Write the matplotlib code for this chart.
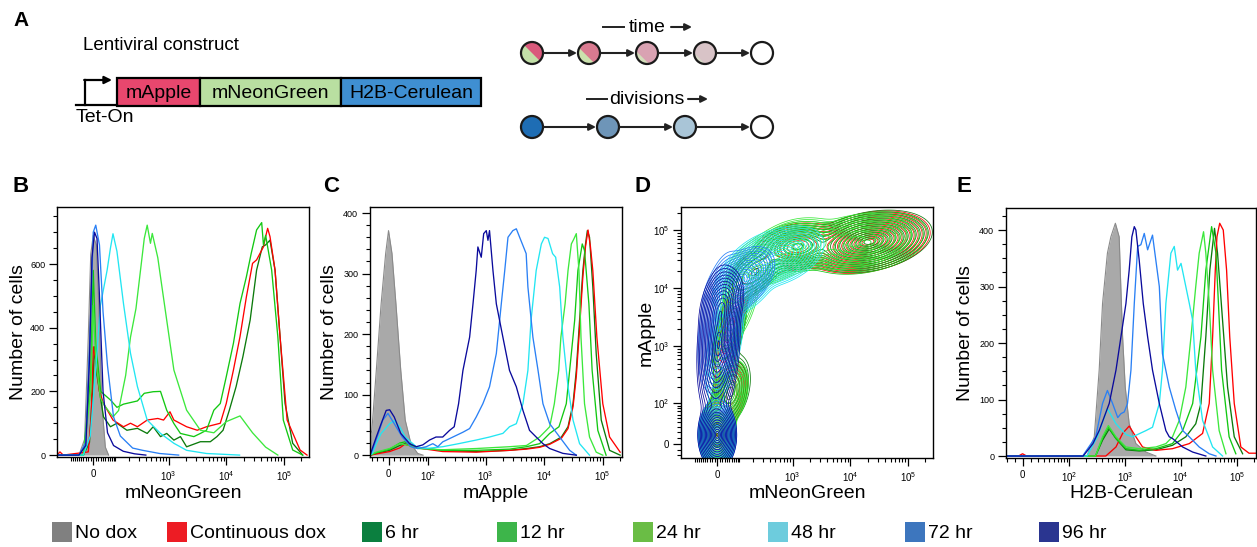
import numpy as np
import matplotlib
matplotlib.use("Agg")
import matplotlib.pyplot as plt
from matplotlib.patches import Rectangle, Circle, Polygon
from matplotlib.ticker import MultipleLocator, FixedLocator, FixedFormatter

plt.rcParams['font.family'] = ['Liberation Sans', 'DejaVu Sans']
plt.rcParams['mathtext.fontset'] = 'custom'
plt.rcParams['mathtext.rm'] = 'Liberation Sans'
plt.rcParams['mathtext.it'] = 'Liberation Sans:italic'

W, H = 1257, 547

# ---- conditions -------------------------------------------------------------
conditions = ["No dox", "Continuous dox", "6 hr", "12 hr", "24 hr", "48 hr", "72 hr", "96 hr"]
legend_colors = ['#808080', '#ED1C24', '#0B7F3F', '#3DB54A', '#6ABD45', '#6DCCDD', '#3D76BE', '#2A3590']
line_colors = {"Continuous dox": '#ff0000', "6 hr": '#0b7a0b', "12 hr": '#12c812',
               "24 hr": '#3ce83c', "48 hr": '#22e6f2', "72 hr": '#2a80f5', "96 hr": '#0a0a9c'}
draw_order = ["6 hr", "Continuous dox", "12 hr", "24 hr", "48 hr", "72 hr", "96 hr"]

# ---- B: mNeonGreen histograms (fluorescence, cell count) --------------------
b_nodox_x = [-200, -60, -35, -20, -10, 0, 12, 22, 35, 50, 65]
b_nodox_y = [0, 0, 50, 370, 630, 690, 660, 470, 160, 25, 0]
b_red_x = [-200, -175, -150, -20, -8, 0, 10, 25, 42, 87, 152, 209, 282, 423, 650, 820, 1060, 1240, 2060, 3150,
           4550, 7880, 10000, 13300, 17300, 22300, 28500, 33500, 44000, 48000, 52000, 57100, 69800, 85200,
           113000, 189000, 250000]
b_red_y = [0, 10, 0, 10, 120, 340, 300, 200, 162, 110, 89, 100, 89, 110, 115, 110, 136, 110, 89, 78,
           89, 100, 162, 267, 372, 497, 602, 613, 654, 686, 712, 686, 581, 372, 110, 16, 0]
b_6_x = [-200, -40, -15, -3, 5, 15, 42, 74, 109, 178, 282, 423, 540, 725, 930, 1240, 1610, 2060, 3570, 5300,
         6900, 8800, 11300, 14800, 19400, 25900, 33500, 42000, 48000, 57100, 69800, 85200, 104000, 141000, 210000]
b_6_y = [0, 0, 40, 200, 340, 250, 120, 89, 100, 78, 84, 68, 89, 58, 68, 47, 58, 26, 42, 42,
         58, 78, 141, 215, 309, 424, 581, 654, 660, 675, 581, 372, 162, 37, 0]
b_12_x = [-200, -40, -10, 0, 10, 30, 74, 109, 152, 209, 282, 375, 540, 725, 930, 1240, 1610, 2750, 3570, 4550,
          6100, 7880, 10000, 13300, 17300, 22300, 27000, 33500, 41000, 44000, 48000, 61000, 78000, 97000,
          141000, 210000]
b_12_y = [0, 0, 250, 580, 350, 200, 173, 150, 160, 165, 170, 194, 199, 200, 141, 99, 68, 58, 68, 78,
          141, 162, 246, 351, 476, 560, 633, 707, 730, 660, 690, 581, 372, 110, 16, 0]
b_24_x = [-200, -40, -10, 0, 10, 29, 42, 87, 119, 168, 209, 265, 331, 375, 423, 483, 520, 650, 725, 930, 1240,
          2060, 3570, 6100, 10000, 17300, 28500, 48000, 78000]
b_24_y = [0, 0, 200, 470, 300, 180, 160, 120, 140, 250, 370, 460, 600, 680, 722, 665, 696, 620, 560, 424, 267,
          141, 78, 70, 105, 123, 70, 25, 0]
b_48_x = [-200, -40, -12, 8, 29, 58, 74, 87, 109, 152, 209, 282, 423, 725, 1240, 2060, 4550, 17000]
b_48_y = [0, 0, 60, 250, 470, 580, 650, 695, 640, 475, 320, 215, 110, 68, 37, 15, 5, 0]
b_72_x = [-200, -60, -30, -12, 0, 10, 25, 40, 60, 90, 130, 230, 350, 700, 1500]
b_72_y = [0, 0, 40, 400, 700, 722, 660, 450, 280, 120, 60, 22, 15, 5, 0]
b_96_x = [-200, -60, -30, -15, -5, 5, 15, 25, 40, 60, 90, 150, 250, 400]
b_96_y = [0, 0, 30, 300, 620, 700, 680, 500, 200, 70, 30, 12, 4, 0]

# ---- C: mApple histograms ---------------------------------------------------
c_nodox_x = [-35, -31, -22, -13, -5, 0, 6, 13, 22, 31, 44, 62, 80]
c_nodox_y = [30, 41, 140, 250, 333, 371, 333, 250, 140, 58, 19, 3, 0]
c_red_x = [-35, -22, 2, 20, 30, 62, 183, 692, 2570, 5000, 8400, 12500, 19800, 25700, 31300, 35600, 40500,
           46100, 51200, 56500, 62000, 68200, 80000, 101000, 132000, 200000]
c_red_y = [0, 2, 6, 12, 18, 12, 6, 5, 8, 10, 13, 18, 28, 44, 80, 130, 210, 295, 345, 372, 345, 305, 195, 85, 30, 5]
c_6_x = [-35, -22, 2, 20, 30, 62, 183, 692, 2570, 5000, 8400, 12500, 19800, 25700, 31300, 35600, 40500,
         46100, 51200, 55000, 59900, 68200, 77900, 95000, 132000, 200000]
c_6_y = [0, 3, 8, 16, 19, 12, 8, 6, 8, 11, 14, 19, 30, 47, 85, 140, 223, 305, 349, 371, 360, 278, 168, 58, 8, 0]
c_12_x = [-35, -22, 2, 20, 30, 62, 183, 692, 2570, 5000, 8400, 12500, 18000, 24000, 27400, 33400, 37900,
          45000, 49200, 58400, 66400, 83000, 115000]
c_12_y = [0, 4, 10, 20, 22, 13, 8, 8, 10, 14, 19, 36, 47, 85, 140, 223, 305, 349, 338, 250, 140, 41, 0]
c_24_x = [-35, -22, 2, 20, 41, 62, 183, 692, 2570, 5000, 8400, 10900, 12500, 15000, 17800, 19400, 22900,
          25700, 29300, 32300, 35600, 39500, 42800, 49200, 59900, 77900, 101000]
c_24_y = [0, 5, 11, 19, 16, 11, 9, 11, 14, 16, 30, 41, 47, 85, 140, 195, 250, 305, 349, 357, 366, 305, 195,
          85, 30, 5, 0]
c_48_x = [-35, -30, -22, -13, 2, 10, 20, 31, 58, 92, 183, 345, 692, 1170, 1980, 2570, 3360, 4360, 5300, 6000,
          7340, 9000, 10200, 11700, 14000, 15800, 18500, 21000, 25700, 31300, 40500, 59900]
c_48_y = [0, 3, 19, 36, 52, 57, 47, 30, 14, 11, 14, 19, 25, 30, 36, 47, 52, 85, 140, 223, 305, 349, 360, 358,
          333, 327, 278, 195, 113, 58, 19, 0]
c_72_x = [-35, -30, -18, -10, -1, 10, 25, 44, 62, 92, 122, 150, 183, 275, 411, 534, 692, 900, 1170, 1530, 1860,
          2130, 2420, 2930, 3360, 3830, 4950, 5300, 6450, 7900, 9580, 12500, 18500, 27400, 35600]
c_72_y = [0, 8, 36, 58, 69, 52, 30, 14, 11, 14, 19, 14, 22, 30, 38, 44, 63, 85, 113, 168, 250, 305, 360, 371,
          374, 360, 333, 278, 195, 140, 85, 52, 30, 8, 0]
c_96_x = [-35, -22, -13, -4, 2, 10, 22, 41, 58, 79, 106, 139, 183, 241, 290, 345, 410, 534, 610, 692, 740, 845,
          930, 1030, 1100, 1170, 1340, 1530, 1980, 2570, 3360, 4360, 5650, 7340, 9580, 12500, 21000, 35600]
c_96_y = [0, 30, 52, 74, 75, 63, 36, 19, 14, 17, 25, 30, 30, 41, 47, 85, 140, 195, 250, 305, 344, 327, 366,
          371, 355, 371, 305, 250, 195, 140, 113, 74, 41, 30, 19, 11, 3, 0]

# ---- E: H2B-Cerulean histograms ----------------------------------------------
e_nodox_x = [210, 285, 349, 401, 490, 565, 680, 795, 850, 915, 1020, 1200, 1580, 2390, 3600]
e_nodox_y = [0, 34, 152, 270, 359, 388, 412, 388, 300, 211, 122, 57, 22, 7, 0]
e_red_x = [-22, -5, 0, 5, 459, 697, 915, 1200, 1580, 2080, 3600, 7120, 14200, 24500, 32200, 37000, 41300, 44200,
           49500, 57300, 65700, 74800, 90000, 118000, 165000, 220000]
e_red_y = [0, 0, 4, 0, 0, 16, 40, 53, 34, 16, 10, 13, 22, 40, 93, 211, 329, 388, 412, 400, 329, 211, 93, 16, 5, 5]
e_6_x = [-22, 300, 401, 528, 697, 1050, 1810, 3600, 7120, 12300, 18500, 22900, 28000, 33000, 40000, 45300,
         55700, 68400, 90000, 127000]
e_6_y = [0, 0, 28, 48, 31, 11, 9, 11, 19, 34, 57, 93, 211, 329, 403, 359, 240, 122, 34, 4]
e_12_x = [-22, 300, 401, 510, 697, 1050, 1810, 3600, 7120, 10800, 16300, 22900, 28000, 35500, 42500, 47000,
          53500, 72900, 96000]
e_12_y = [0, 0, 31, 51, 31, 13, 10, 13, 22, 45, 93, 211, 329, 406, 359, 270, 152, 34, 4]
e_24_x = [-22, 300, 401, 510, 697, 1050, 1810, 3600, 5420, 7120, 9390, 12300, 15200, 18500, 21300, 25500,
          28000, 32200, 37000, 48400, 64000]
e_24_y = [0, 0, 34, 54, 34, 16, 13, 16, 22, 34, 63, 122, 211, 300, 359, 397, 359, 270, 152, 45, 4]
e_48_x = [-22, 210, 325, 490, 697, 1050, 1380, 2390, 3130, 4140, 4710, 5420, 6660, 7650, 8760, 10100, 12300,
          14200, 16300, 18500, 24500, 37000, 55700]
e_48_y = [0, 0, 34, 84, 57, 38, 34, 45, 51, 93, 152, 270, 359, 371, 329, 341, 300, 270, 240, 152, 63, 16, 0]
e_72_x = [-22, 176, 303, 401, 490, 606, 750, 855, 980, 1120, 1290, 1480, 1700, 1940, 2230, 2560, 3130, 4140,
          4710, 6230, 8170, 10800, 14200, 21300, 32200, 42500]
e_72_y = [0, 0, 34, 93, 116, 93, 68, 75, 78, 93, 152, 270, 371, 374, 394, 365, 391, 300, 181, 122, 81, 45, 34,
          16, 4, 0]
e_96_x = [-22, 180, 270, 349, 528, 697, 855, 1050, 1200, 1340, 1480, 1580, 1810, 2140, 2560, 3130, 4140, 5420,
          6230, 7120, 10800, 16300, 28000]
e_96_y = [0, 0, 22, 45, 93, 152, 211, 270, 329, 388, 406, 400, 347, 270, 211, 152, 93, 45, 34, 31, 16, 7, 0]

# ---- D: mNeonGreen vs mApple density components -----------------------------
# (mNeonGreen, mApple, x spread, y spread, correlation, weight); spreads in asinh units
d_nodox = [(0, 10, 0.22, 0.35, 0.0, 1.0)]
d_red = [(0, 15, 0.25, 0.45, 0.0, 0.12), (52, 152, 0.28, 0.5, 0.3, 0.05), (52, 1890, 0.3, 0.8, 0.6, 0.04),
         (213, 18900, 0.5, 0.45, 0.6, 0.05), (1225, 52000, 0.6, 0.35, 0.2, 0.12),
         (20200, 62000, 0.8, 0.4, 0.3, 0.62)]
d_6 = [(0, 15, 0.25, 0.45, 0.0, 0.12), (60, 180, 0.3, 0.55, 0.3, 0.06), (52, 1890, 0.3, 0.8, 0.6, 0.05),
       (213, 18900, 0.5, 0.45, 0.6, 0.05), (1225, 52000, 0.6, 0.35, 0.2, 0.1),
       (22000, 64000, 0.8, 0.4, 0.3, 0.62)]
d_12 = [(0, 15, 0.25, 0.45, 0.0, 0.14), (52, 152, 0.28, 0.5, 0.3, 0.05), (52, 1890, 0.3, 0.8, 0.6, 0.05),
        (213, 18900, 0.5, 0.45, 0.6, 0.07), (1225, 52000, 0.6, 0.35, 0.2, 0.16),
        (18000, 60000, 0.8, 0.4, 0.3, 0.53)]
d_24 = [(0, 15, 0.25, 0.45, 0.0, 0.15), (52, 152, 0.28, 0.5, 0.3, 0.06), (89, 5140, 0.35, 0.7, 0.6, 0.08),
        (446, 34400, 0.6, 0.4, 0.5, 0.3), (1350, 56000, 0.55, 0.35, 0.2, 0.25),
        (12200, 64000, 0.85, 0.42, 0.3, 0.15)]
d_48 = [(0, 15, 0.25, 0.45, 0.0, 0.15), (30, 1150, 0.3, 0.9, 0.5, 0.1), (151, 15400, 0.45, 0.5, 0.5, 0.35),
        (546, 34400, 0.6, 0.4, 0.4, 0.4)]
d_72 = [(0, 15, 0.25, 0.45, 0.0, 0.2), (15, 2550, 0.3, 0.9, 0.4, 0.45), (103, 13000, 0.45, 0.45, 0.5, 0.35)]
d_96 = [(0, 15, 0.25, 0.45, 0.0, 0.25), (5, 1040, 0.28, 1.0, 0.2, 0.6), (20, 5140, 0.3, 0.5, 0.3, 0.15)]


def asinh_funcs(c):
    return (lambda v: np.arcsinh(np.asarray(v, dtype=float) / c),
            lambda u: c * np.sinh(np.asarray(u, dtype=float)))


def decade_minors(lo, hi):
    vals = []
    for k in range(1, 6):
        for m in range(1, 10):
            for s in (1, -1):
                v = s * m * 10 ** k
                if lo < v < hi:
                    vals.append(v)
    return sorted(vals)


def style_flow_axis(axis, c, lo, hi, majors, labels, labelsize=7):
    fwd, inv = asinh_funcs(c)
    if axis.axis_name == 'x':
        axis.axes.set_xscale('function', functions=(fwd, inv))
        axis.axes.set_xlim(lo, hi)
    else:
        axis.axes.set_yscale('function', functions=(fwd, inv))
        axis.axes.set_ylim(lo, hi)
    axis.set_major_locator(FixedLocator(majors))
    axis.set_major_formatter(FixedFormatter(labels))
    axis.set_minor_locator(FixedLocator(decade_minors(lo, hi)))
    axis.set_tick_params(which='major', length=5.5, width=0.9, labelsize=labelsize, pad=3, direction='out')
    axis.set_tick_params(which='minor', length=2.8, width=0.8, direction='out')


def frame(ax):
    for sp in ax.spines.values():
        sp.set_linewidth(1.0)
        sp.set_color('black')


def axes_px(l, t, r, b):
    return [l / W, 1 - b / H, (r - l) / W, (b - t) / H]


fig = plt.figure(figsize=(W / 100, H / 100), dpi=100)

pow_labels = ['0', r'$10^{2}$', r'$10^{3}$', r'$10^{4}$', r'$10^{5}$']
pow_vals = [0, 1e2, 1e3, 1e4, 1e5]

hist_panels = [
    # rect, asinh cofactor, x range, y range, y major step, y minor step, label 10^2, data
    (axes_px(57, 207, 309, 457), 100, (-200, 2.7e5), (-6, 779), 200, 50, False,
     (b_nodox_x, b_nodox_y),
     {"Continuous dox": (b_red_x, b_red_y), "6 hr": (b_6_x, b_6_y), "12 hr": (b_12_x, b_12_y),
      "24 hr": (b_24_x, b_24_y), "48 hr": (b_48_x, b_48_y), "72 hr": (b_72_x, b_72_y),
      "96 hr": (b_96_x, b_96_y)}),
    (axes_px(370, 207, 622, 457), 44, (-35, 2.15e5), (-3, 410), 100, 20, True,
     (c_nodox_x, c_nodox_y),
     {"Continuous dox": (c_red_x, c_red_y), "6 hr": (c_6_x, c_6_y), "12 hr": (c_12_x, c_12_y),
      "24 hr": (c_24_x, c_24_y), "48 hr": (c_48_x, c_48_y), "72 hr": (c_72_x, c_72_y),
      "96 hr": (c_96_x, c_96_y)}),
    (axes_px(1006, 208, 1256, 458), 30, (-22, 2.2e5), (-3.5, 439), 100, 25, True,
     (e_nodox_x, e_nodox_y),
     {"Continuous dox": (e_red_x, e_red_y), "6 hr": (e_6_x, e_6_y), "12 hr": (e_12_x, e_12_y),
      "24 hr": (e_24_x, e_24_y), "48 hr": (e_48_x, e_48_y), "72 hr": (e_72_x, e_72_y),
      "96 hr": (e_96_x, e_96_y)}),
]

for rect, c, xr, yr, ymaj, ymin, show100, nodox, series in hist_panels:
    ax = fig.add_axes(rect)
    if show100:
        majors, labels = pow_vals, pow_labels
    else:
        majors, labels = [0, 1e3, 1e4, 1e5], ['0'] + pow_labels[2:]
    style_flow_axis(ax.xaxis, c, xr[0], xr[1], majors, labels)
    ax.set_ylim(*yr)
    ax.yaxis.set_major_locator(MultipleLocator(ymaj))
    ax.yaxis.set_minor_locator(MultipleLocator(ymin))
    ax.tick_params(axis='y', which='major', length=5.5, width=0.9, labelsize=6.5, pad=3)
    ax.tick_params(axis='y', which='minor', length=2.8, width=0.8)
    ax.fill_between(nodox[0], nodox[1], 0, color='#a9a9a9', lw=0, zorder=1)
    ax.plot(nodox[0], nodox[1], color='#8a8a8a', lw=0.8, zorder=1)
    for name in draw_order:
        x, y = series[name]
        ax.plot(x, y, color=line_colors[name], lw=0.95, zorder=2)
    frame(ax)

# ---- D: contour plot ----------------------------------------------------------
axd = fig.add_axes(axes_px(681, 207, 933, 458))
cx, cy = 100, 42
xlo, xhi, ylo, yhi = -200, 2.7e5, -25, 2.5e5
style_flow_axis(axd.xaxis, cx, xlo, xhi, [0, 1e3, 1e4, 1e5], ['0'] + pow_labels[2:])
style_flow_axis(axd.yaxis, cy, ylo, yhi, pow_vals, pow_labels)

gu = np.linspace(np.arcsinh(xlo / cx), np.arcsinh(xhi / cx), 400)
gv = np.linspace(np.arcsinh(ylo / cy), np.arcsinh(yhi / cy), 400)
U, V = np.meshgrid(gu, gv)
X, Y = cx * np.sinh(U), cy * np.sinh(V)
# contour heights spaced evenly in "radius" so rings are evenly spread
ring_levels = np.exp(-0.5 * np.linspace(3.1, 0.3, 15) ** 2)

d_sets = [('#8a8a8a', d_nodox), (line_colors["Continuous dox"], d_red), (line_colors["6 hr"], d_6),
          (line_colors["12 hr"], d_12), (line_colors["24 hr"], d_24), (line_colors["48 hr"], d_48),
          (line_colors["72 hr"], d_72), (line_colors["96 hr"], d_96)]
for color, comps in d_sets:
    Z = np.zeros_like(U)
    for mx, my, sx, sy, rho, w in comps:
        du = (U - np.arcsinh(mx / cx)) / sx
        dv = (V - np.arcsinh(my / cy)) / sy
        q = (du ** 2 - 2 * rho * du * dv + dv ** 2) / (1 - rho ** 2)
        Z += w / (sx * sy) * np.exp(-0.5 * q)
    axd.contour(X, Y, Z, levels=ring_levels * Z.max(), colors=color, linewidths=0.55)
frame(axd)

# ---- overlay for schematic, labels and legend --------------------------------
ov = fig.add_axes([0, 0, 1, 1], zorder=10)
ov.set_xlim(0, W)
ov.set_ylim(H, 0)
ov.axis('off')
ov.patch.set_alpha(0)

for letter, (lx, ly), fs in [("A", (21, 20), 15), ("B", (21, 186), 16), ("C", (331, 186), 16),
                              ("D", (643, 186), 16), ("E", (964, 186), 16)]:
    ov.text(lx, ly, letter, fontsize=fs, fontweight='bold', ha='center', va='center')

# lentiviral construct
ov.text(83, 45, "Lentiviral construct", fontsize=13.5, ha='left', va='center')
parts = [("mApple", 117, 200, '#E8476E'), ("mNeonGreen", 200, 341, '#B9DFA1'),
         ("H2B-Cerulean", 341, 481, '#3F8FD2')]
for name, x0, x1, col in parts:
    ov.add_patch(Rectangle((x0, 78), x1 - x0, 28, fc=col, ec='black', lw=1.6))
    ov.text((x0 + x1) / 2, 93, name, fontsize=14, ha='center', va='center')
ov.plot([76, 117], [105, 105], color='black', lw=1.6)
ov.plot([85, 85], [105, 80], color='black', lw=1.6)
ov.annotate('', xy=(112, 80), xytext=(84.2, 80),
            arrowprops=dict(arrowstyle='-|>', lw=1.6, color='black', mutation_scale=11, shrinkA=0, shrinkB=0))
ov.text(76, 118, "Tet-On", fontsize=14, ha='left', va='center')


def arrow(x0, x1, y):
    ov.annotate('', xy=(x1, y), xytext=(x0, y),
                arrowprops=dict(arrowstyle='-|>', lw=1.5, color='#222222', mutation_scale=10,
                                shrinkA=0, shrinkB=0))


# fluorescence loss over time (mApple / mNeonGreen) and dilution by division (H2B-Cerulean)
time_x = [532, 589, 647, 705, 762]
time_fill = [('#DA5A7C', '#C3E0A8', 90), ('#D97A90', '#CBE1AD', 72), ('#D9A2B2', '#D3DDBA', 55),
             ('#D8C3C7', '#D6D9C6', 45), ('white', 'white', 0)]
r = 11
for x, (pink, green, half) in zip(time_x, time_fill):
    ov.add_patch(Circle((x, 53), r, fc=pink, ec='none'))
    if half > 0:
        ang = np.radians(np.linspace(135 - half, 135 + half, 40))
        pts = np.column_stack([x + r * np.cos(ang), 53 + r * np.sin(ang)])
        ov.add_patch(Polygon(pts, closed=True, fc=green, ec='none'))
    ov.add_patch(Circle((x, 53), r, fc='none', ec='#1a1a1a', lw=1.6))
for a, b in zip(time_x[:-1], time_x[1:]):
    arrow(a + r + 1, b - r - 1, 53)
ov.text(647, 27, "time", fontsize=14, ha='center', va='center')
ov.plot([603, 624], [27, 27], color='#222222', lw=1.4)
arrow(671, 692, 27)

div_x = [532, 608, 685, 762]
div_fill = ['#1E6DB4', '#6E95B8', '#A9C5D7', 'white']
for x, col in zip(div_x, div_fill):
    ov.add_patch(Circle((x, 127), r, fc=col, ec='#1a1a1a', lw=1.6))
for a, b in zip(div_x[:-1], div_x[1:]):
    arrow(a + r + 1, b - r - 1, 127)
ov.text(647, 99, "divisions", fontsize=14, ha='center', va='center')
ov.plot([587, 607], [99, 99], color='#222222', lw=1.4)
arrow(688, 708, 99)

# axis titles
for x, y, txt, rot in [(19, 332, "Number of cells", 90), (329, 332, "Number of cells", 90),
                       (646, 333, "mApple", 90), (965, 333, "Number of cells", 90),
                       (183, 493, "mNeonGreen", 0), (496, 493, "mApple", 0),
                       (807, 493, "mNeonGreen", 0), (1131, 493, "H2B-Cerulean", 0)]:
    ov.text(x, y, txt, fontsize=14, rotation=rot, ha='center', va='center')

# legend
legend_x = [52, 167, 362, 497, 633, 768, 905, 1039]
for lx, name, col in zip(legend_x, conditions, legend_colors):
    ov.add_patch(Rectangle((lx, 522), 20, 20, fc=col, ec='none'))
    ov.text(lx + 23, 533, name, fontsize=14, ha='left', va='center')

fig.savefig("out.png", dpi=100)
